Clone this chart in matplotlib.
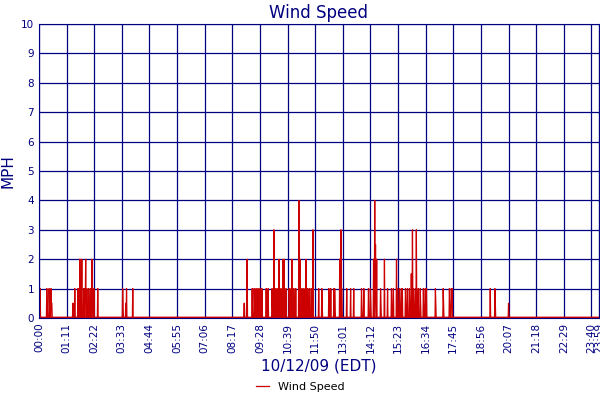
import numpy as np
import matplotlib
matplotlib.use("Agg")
import matplotlib.pyplot as plt

# readings (minute of day, mph); all other minutes are 0
spike_min = [3, 20, 26, 31, 33,
             87, 92, 100, 102, 105, 108, 110, 115, 118, 120, 123, 125, 128, 133, 136, 138, 141, 151,
             215, 223, 225, 241,
             527, 535, 548, 553, 558, 563, 568, 573, 584, 589, 599, 604, 607, 612, 617, 622, 627,
             630, 635, 643, 648, 650, 655, 660, 668, 671, 676, 681, 686, 691, 696, 701, 704, 719,
             727, 745, 750, 758, 760, 773, 776, 778, 791, 801, 809, 829, 835, 847, 852, 860, 863,
             865, 868, 878, 888, 896, 906, 911, 919, 922, 927, 932, 934, 942, 947, 952, 957, 960,
             963, 968, 970, 975, 980, 988, 993, 996, 1019, 1039, 1055, 1060, 1062, 1160, 1172, 1206]
spike_mph = [1, 1, 1, 1, 0.5,
             0.5, 1, 1, 1, 2, 1, 2, 1, 1, 2, 1, 0.5, 1, 1, 2, 0.5, 1, 1,
             1, 0.5, 1, 1,
             0.5, 2, 1, 1, 1, 1, 1, 1, 1, 1, 1, 3, 1, 1, 2, 1, 2,
             2, 1, 1, 1, 2, 1, 1, 4, 2, 1, 1, 2, 1, 1, 1, 3, 1,
             1, 1, 1, 1, 1, 2, 3, 1, 1, 1, 1, 1, 1, 1, 1, 2, 4,
             2.5, 2, 1, 2, 1, 1, 1, 2, 1, 1, 1, 1, 1, 1, 1, 1.5,
             3, 1, 1, 3, 1, 1, 1, 1, 1, 1, 1, 1, 1, 1, 1, 1]
# half-value shoulders next to many spikes
half_min = [21, 27, 32, 88, 106, 119, 129, 137, 216, 528, 554, 569, 600, 605, 608, 613, 623, 631,
            644, 656, 672, 677, 692, 702, 728, 746, 761, 779, 830, 853, 864, 866, 879, 907, 920,
            928, 943, 953, 961, 964, 971, 981, 989, 994, 1020, 1040, 1056, 1061, 1173, 1207]

tick_labels = ["00:00", "01:11", "02:22", "03:33", "04:44", "05:55", "07:06", "08:17", "09:28",
               "10:39", "11:50", "13:01", "14:12", "15:23", "16:34", "17:45", "18:56", "20:07",
               "21:18", "22:29", "23:40", "23:59"]

NAVY = "#000080"
RED = "#cc0000"

minutes = np.arange(0, 1440)
mph = np.zeros(1440)
for m in half_min:
    mph[m] = 0.5
for m, v in zip(spike_min, spike_mph):
    mph[m] = v

fig = plt.figure(figsize=(6, 4), dpi=100)
ax = fig.add_axes([0.065, 0.205, 0.933, 0.735])
ax.plot(minutes, mph, color=RED, linewidth=0.9, label="Wind Speed")
ax.plot(minutes, np.zeros(1440), color=RED, linewidth=2)

ticks = [int(t[:2]) * 60 + int(t[3:]) for t in tick_labels]
ax.set_xticks(ticks)
ax.set_xticklabels(tick_labels, rotation=90, fontsize=7.5, color=NAVY)
ax.set_yticks(range(0, 11))
ax.tick_params(axis="y", labelsize=7.5, labelcolor=NAVY, length=0)
ax.tick_params(axis="x", length=0)
ax.set_xlim(0, 1439)
ax.set_ylim(0, 10)
ax.grid(True, color=NAVY, linewidth=0.9)
for s in ax.spines.values():
    s.set_color(NAVY)
ax.set_title("Wind Speed", color=NAVY, fontsize=12, pad=4)
ax.set_ylabel("MPH", color=NAVY, fontsize=11)
ax.set_xlabel("10/12/09 (EDT)", color=NAVY, fontsize=11, labelpad=4)
fig.legend(loc="lower center", bbox_to_anchor=(0.5, 0.0), frameon=False,
           fontsize=8, handlelength=1.2, borderpad=0.2)
fig.savefig("out.png", dpi=100)
